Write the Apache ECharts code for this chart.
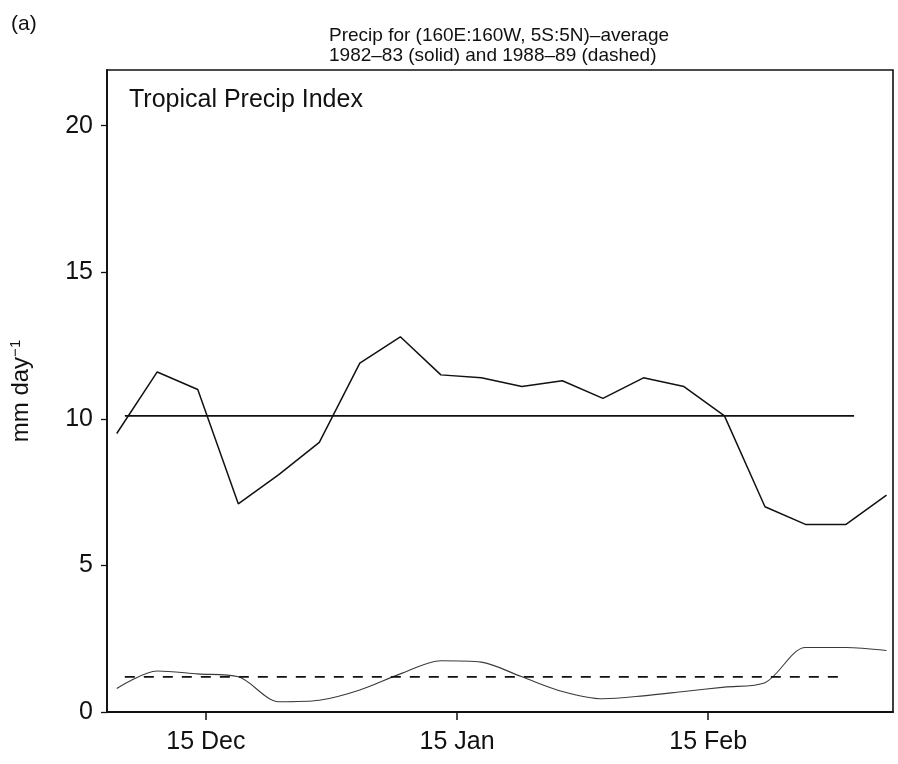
<!DOCTYPE html>
<html>
<head>
<meta charset="utf-8">
<title>Tropical Precip Index</title>
<script src="https://cdn.jsdelivr.net/npm/echarts@6/dist/echarts.min.js"></script>
<style>
  html, body { margin: 0; padding: 0; background: #ffffff; }
  #chart { width: 898px; height: 764px; }
</style>
</head>
<body>
<div id="chart"></div>
<script>
// Pentad centres, counted in days from 1 December
const days = [3, 8, 13, 18, 23, 28, 33, 38, 43, 48, 53, 58, 63, 68, 73, 78, 83, 88, 93, 98];

// 1982-83 pentad precipitation (mm/day)
const precip8283 = [9.5, 11.6, 11.0, 7.1, 8.1, 9.2, 11.9, 12.8, 11.5, 11.4,
                    11.1, 11.3, 10.7, 11.4, 11.1, 10.1, 7.0, 6.4, 6.4, 7.4];

// 1988-89 pentad precipitation (mm/day)
const precip8889 = [0.8, 1.4, 1.3, 1.2, 0.35, 0.4, 0.75, 1.3, 1.75, 1.7,
                    1.2, 0.7, 0.45, 0.55, 0.7, 0.85, 1.0, 2.2, 2.2, 2.1];

// Seasonal means, drawn as flat lines over the averaging period
const meanDays8283 = [4, 94];
const mean8283 = [10.1, 10.1];
const meanDays8889 = [4, 93];
const mean8889 = [1.2, 1.2];

// Axis ticks
const xTickDays = [14, 45, 76];
const xTickLabels = ['15 Dec', '15 Jan', '15 Feb'];
const yTickValues = [0, 5, 10, 15, 20];

const FONT = 'Liberation Sans, Arial, Helvetica, sans-serif';
const INK = '#111111';

function pairs(xs, ys) {
  return xs.map((x, i) => [x, ys[i]]);
}

const chart = echarts.init(document.getElementById('chart'), null, { renderer: 'canvas' });

chart.setOption({
  backgroundColor: '#ffffff',
  animation: false,
  title: [
    {
      text: '(a)', left: 6, top: 9,
      textStyle: { fontFamily: FONT, fontSize: 21, fontWeight: 'normal', color: INK }
    },
    {
      text: 'Precip for (160E:160W, 5S:5N)–average\n1982–83 (solid) and 1988–89 (dashed)',
      left: 324, top: 21,
      textStyle: { fontFamily: FONT, fontSize: 19, fontWeight: 'normal', color: INK, lineHeight: 20 }
    },
    {
      text: 'Tropical Precip Index', left: 124, top: 83,
      textStyle: { fontFamily: FONT, fontSize: 25, fontWeight: 'normal', color: INK }
    }
  ],
  grid: {
    left: 105, right: 5, top: 70, bottom: 52,
    show: true, borderColor: INK, borderWidth: 1.6, backgroundColor: 'transparent'
  },
  xAxis: {
    type: 'value',
    min: 1.8, max: 98.8,
    splitLine: { show: false },
    axisLine: { show: true, onZero: false, lineStyle: { color: INK, width: 1.8 } },
    axisTick: {
      show: true, inside: false, length: 8, customValues: xTickDays,
      lineStyle: { color: INK, width: 1.5 }
    },
    axisLabel: {
      customValues: xTickDays,
      margin: 18,
      fontFamily: FONT, fontSize: 25, color: INK,
      formatter: v => xTickLabels[xTickDays.indexOf(v)] || ''
    }
  },
  yAxis: {
    type: 'value',
    min: 0, max: 21.9,
    splitLine: { show: false },
    axisLine: { show: true, onZero: false, lineStyle: { color: INK, width: 1.8 } },
    axisTick: {
      show: true, length: 6, customValues: yTickValues,
      lineStyle: { color: INK, width: 1.3 }
    },
    axisLabel: {
      customValues: yTickValues,
      margin: 14,
      fontFamily: FONT, fontSize: 25, color: INK
    },
    name: 'mm day{sup|−1}',
    nameLocation: 'middle',
    nameRotate: 90,
    nameGap: 72,
    nameTextStyle: {
      fontFamily: FONT, fontSize: 24, color: INK,
      rich: {
        sup: { fontFamily: FONT, fontSize: 15, color: INK, padding: [0, 0, 12, 0] }
      }
    }
  },
  series: [
    {
      name: '1982-83',
      type: 'line',
      data: pairs(days, precip8283),
      showSymbol: false,
      lineStyle: { color: INK, width: 1.5 },
      z: 4
    },
    {
      name: '1982-83 mean',
      type: 'line',
      data: pairs(meanDays8283, mean8283),
      showSymbol: false,
      lineStyle: { color: INK, width: 1.7 },
      z: 3
    },
    {
      name: '1988-89',
      type: 'line',
      data: pairs(days, precip8889),
      showSymbol: false,
      smooth: 0.3,
      lineStyle: { color: '#3a3a3a', width: 1.1 },
      z: 3
    },
    {
      name: '1988-89 mean',
      type: 'line',
      data: pairs(meanDays8889, mean8889),
      showSymbol: false,
      lineStyle: { color: INK, width: 1.8, type: [10, 9] },
      z: 3
    }
  ]
});
</script>
</body>
</html>
